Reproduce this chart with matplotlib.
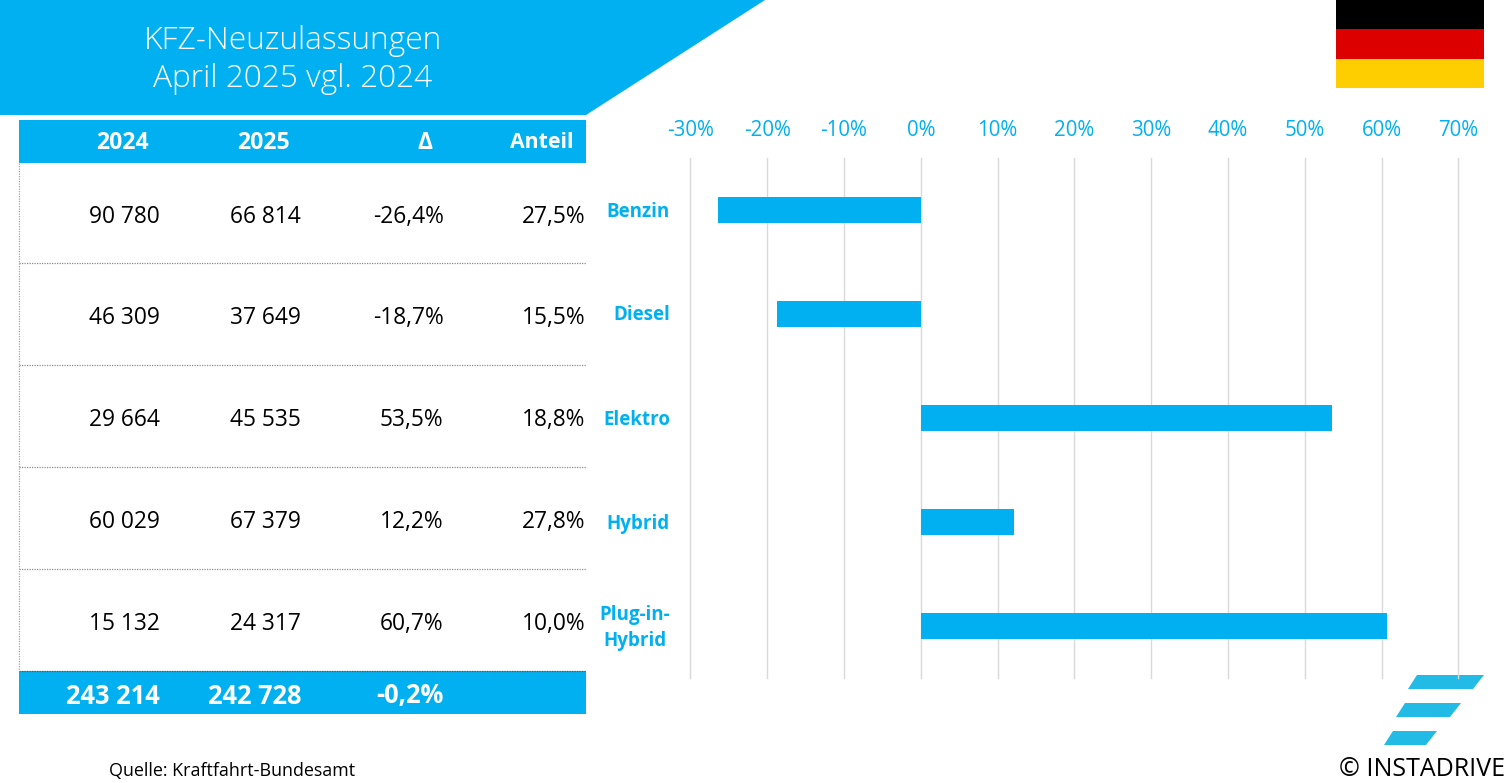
import matplotlib
matplotlib.use("Agg")
import matplotlib.pyplot as plt
from matplotlib.patches import Polygon, Rectangle

plt.rcParams['font.family'] = ['Open Sans', 'DejaVu Sans']

categories = ["Benzin", "Diesel", "Elektro", "Hybrid", "Plug-in-\nHybrid"]
values_2024 = ["90 780", "46 309", "29 664", "60 029", "15 132"]
values_2025 = ["66 814", "37 649", "45 535", "67 379", "24 317"]
delta_labels = ["-26,4%", "-18,7%", "53,5%", "12,2%", "60,7%"]
share_labels = ["27,5%", "15,5%", "18,8%", "27,8%", "10,0%"]
delta_values = [-26.4, -18.7, 53.5, 12.2, 60.7]
totals = ["243 214", "242 728", "-0,2%"]
headers = ["2024", "2025", "Δ", "Anteil"]
x_ticks = [-30, -20, -10, 0, 10, 20, 30, 40, 50, 60, 70]
title_lines = ["KFZ-Neuzulassungen", "April 2025 vgl. 2024"]

BLUE = "#00B0F0"
W, H = 1510, 783
fig = plt.figure(figsize=(W / 100, H / 100), dpi=100, facecolor="white")

# page overlay in pixel coordinates
bg = fig.add_axes([0, 0, 1, 1], zorder=1)
bg.set_xlim(0, W); bg.set_ylim(H, 0); bg.axis("off")

# chart
L, R, T, B = 690.4, 1458.4, 158, 678
ax = fig.add_axes([L / W, 1 - B / H, (R - L) / W, (B - T) / H], zorder=2)
ax.patch.set_alpha(0)
ax.barh(range(len(categories)), delta_values, height=0.25, color=BLUE, zorder=3)
ax.set_xlim(-30, 70)
ax.set_ylim(len(categories) - 0.5, -0.5)
ax.set_xticks(x_ticks)
ax.set_xticklabels([f"{t}%" for t in x_ticks], color=BLUE, fontsize=14.8)
ax.xaxis.tick_top()
ax.tick_params(axis="x", length=0, pad=12)
ax.set_yticks([])
ax.grid(axis="x", color="#D9D9D9", lw=1.0, clip_on=False)
ax.set_axisbelow(True)
for s in ax.spines.values():
    s.set_visible(False)

# title band
bg.add_patch(Polygon([(0, 0), (765, 0), (586, 115), (0, 115)], color=BLUE, lw=0))
for y, t in zip([41, 79], title_lines):
    bg.text(292.5, y, t, color="white", fontsize=22.8, ha="center", va="center", fontweight="light")

# table bands
bg.add_patch(Rectangle((19, 120), 567, 43, color=BLUE, lw=0))
bg.add_patch(Rectangle((19, 671), 567, 43, color=BLUE, lw=0))
for x, t, fs in zip([149, 290, 432, 574], headers, [16.6, 16.6, 16.4, 15.3]):
    bg.text(x, 143, t, color="white", fontsize=fs, fontweight="bold", ha="right", va="center")

# table rows
row_y = [217, 318, 420, 522, 624]
for i, y in enumerate(row_y):
    for x, t in zip([160, 301, 443.5, 585.5],
                    [values_2024[i], values_2025[i], delta_labels[i], share_labels[i]]):
        bg.text(x, y, t, color="black", fontsize=16.4, ha="right", va="center")
for y in [263, 365, 467, 569]:
    bg.plot([19, 586], [y, y], color="#8C8C8C", lw=0.9, ls=(0, (1, 1)))
bg.plot([19, 586], [671, 671], color="#555555", lw=0.9, ls=(0, (1, 1)))
bg.plot([19, 19], [163, 671], color="#A6A6A6", lw=0.9, ls=(0, (1, 1)))

for x, t in zip([160, 301.5, 443.5], totals):
    bg.text(x, 696, t, color="white", fontsize=18.4, fontweight="bold", ha="right", va="center")

# category labels
for (x, y, c) in zip([670, 670, 670, 670, 634.5], [212, 315, 420, 524, 628], categories):
    ha = "right" if "\n" not in c else "center"
    bg.text(x, y, c, color=BLUE, fontsize=13.5, fontweight="bold", ha=ha, va="center",
            linespacing=1.42)

# flag
for y, c in zip([0, 29, 59], ["#000000", "#DD0000", "#FFCE00"]):
    bg.add_patch(Rectangle((1336, y), 148, 30 if y < 59 else 29, color=c, lw=0))

# logo
LOGO = "#22BBE6"
for pts in [[(1417, 675), (1484, 675), (1473, 689), (1408, 689)],
            [(1405, 703), (1461, 703), (1450, 717), (1396, 717)],
            [(1393, 731), (1437, 731), (1426, 745), (1384, 745)]]:
    bg.add_patch(Polygon(pts, color=LOGO, lw=0, zorder=5))

bg.text(109, 771, "Quelle: Kraftfahrt-Bundesamt", color="black", fontsize=12.9, ha="left", va="center")
bg.text(1339, 769, "© INSTADRIVE", color="black", fontsize=18, ha="left", va="center")

fig.savefig("out.png", dpi=100)
